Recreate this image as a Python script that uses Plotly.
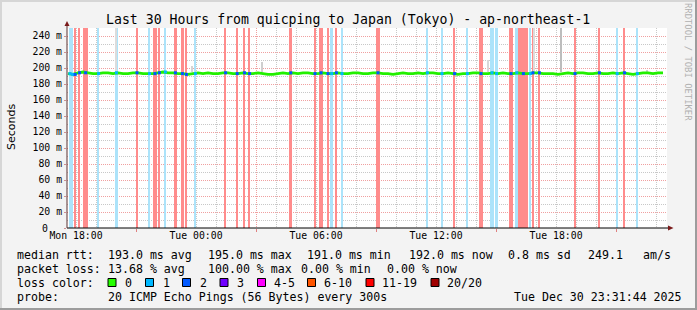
import plotly.graph_objects as go

W, H = 697, 310
PL, PR, PT, PB = 67, 667, 28, 228  # plot area in px

# ---------------- data ----------------
X_START, X_END = 17.55, 47.55          # hours since Mon 00:00
STEP = 5 / 60                          # 300 s step

RTT_T0, RTT_DT = 17.6, 0.25            # median rtt, every 15 min
rtt_ms = [
    193, 192, 194, 195, 194, 193, 193, 194, 194, 193,
    194, 193, 193, 194, 194, 193, 193, 193, 194, 195,
    194, 194, 193, 193, 192, 193, 194, 193, 194, 193,
    193, 194, 194, 193, 193, 194, 193, 193, 194, 193,
    192, 192, 193, 194, 193, 194, 193, 194, 194, 193,
    193, 194, 193, 193, 194, 193, 193, 194, 194, 193,
    193, 194, 194, 193, 193, 192, 193, 194, 193, 193,
    194, 193, 194, 194, 193, 193, 194, 193, 192, 193,
    193, 194, 194, 193, 193, 194, 193, 194, 193, 193,
    194, 193, 193, 194, 194, 193, 193, 193, 192, 193,
    194, 193, 194, 194, 193, 193, 194, 193, 193, 194,
    193, 194, 193, 192, 193, 194, 194, 193, 194, 194,
]

# loss events: centre time (h), number of 5-min steps, level ('b' = 1/20, 'r' = heavy)
loss_time = [17.70, 17.83, 17.96, 18.18, 18.48, 19.13, 20.02, 21.05, 21.68, 21.95,
             22.17, 22.47, 22.97, 23.32, 23.52, 23.97, 25.48, 26.06, 26.43, 26.68,
             28.74, 29.95, 30.25, 30.60, 30.79, 31.02, 31.30, 33.10, 35.57, 36.30,
             36.93, 37.57, 38.25, 38.80, 39.03, 39.75, 40.04, 40.37, 40.72, 40.85,
             41.17, 42.95, 44.17, 45.06, 45.43, 46.07]
loss_steps = [1, 1, 1, 1, 3, 1, 2, 1, 1, 2,
              1, 1, 2, 2, 1, 1, 1, 1, 1, 1,
              2, 1, 2, 1, 1, 1, 1, 2, 1, 1,
              1, 1, 2, 2, 2, 2, 1, 6, 1, 1,
              1, 1, 1, 1, 1, 1]
loss_level = ['b', 'b', 'r', 'r', 'r', 'b', 'b', 'r', 'b', 'r',
              'r', 'b', 'r', 'r', 'r', 'b', 'r', 'r', 'r', 'r',
              'r', 'r', 'r', 'r', 'b', 'r', 'b', 'r', 'b', 'b',
              'r', 'b', 'r', 'b', 'b', 'r', 'b', 'r', 'b', 'r',
              'r', 'r', 'r', 'b', 'r', 'b']

# smoke spikes (h, low ms, high ms, shade)
smoke_time = [20.00, 23.78, 27.29, 38.60, 40.90, 42.27, 46.54]
smoke_low = [196, 195, 195, 195, 196, 195, 194]
smoke_high = [250, 202, 208, 210, 250, 250, 197]
smoke_color = ['#dcdcdc', '#d4d4d4', '#cfcfcf', '#d8d8d8', '#dcdcdc', '#bdbdbd', '#d0d0d0']

x_label_vals = [18, 24, 30, 36, 42]
x_label_text = ['Mon 18:00', 'Tue 00:00', 'Tue 06:00', 'Tue 12:00', 'Tue 18:00']
x_major_vals = [21, 27, 33, 39, 45]
y_tick_vals = list(range(0, 241, 20))
y_tick_text = [''] + [f'{v} m' for v in y_tick_vals[1:]]
y_zero_text = '0'

LOSS_BG = {'b': '#ace3fa', 'r': '#ff8c8c'}
LOSS_LINE = {'b': '#00b8ff', 'r': '#0059ff'}

legend_rows = [
    [("median rtt:", 16), ("193.0 ms avg", 107), ("195.0 ms max", 207), ("191.0 ms min", 306),
     ("192.0 ms now", 408), ("0.8 ms sd", 506.5), ("249.1", 586.5), ("am/s", 641.5)],
    [("packet loss:", 16), ("13.68 % avg", 107), ("100.00 % max", 207), ("0.00 % min", 300),
     ("0.00 % now", 386)],
    [("loss color:", 16)],
    [("probe:", 16), ("20 ICMP Echo Pings (56 Bytes) every 300s", 107),
     ("Tue Dec 30 23:31:44 2025", 513)],
]
legend_y = [254.5, 268.5, 282.5, 296.5]
loss_colors = ['#26ff00', '#00b8ff', '#0059ff', '#7000ff', '#ff00ff', '#ff5500', '#ff0000', '#a00000']
loss_labels = ['0', '1', '2', '3', '4-5', '6-10', '11-19', '20/20']
loss_box_x = [108, 145.5, 182.5, 220, 257.5, 307.5, 366, 431]
loss_lab_x = [124, 161.5, 199, 236, 273, 323, 380.5, 445.5]

# ---------------- helpers ----------------
def px(x):
    return (x - PL) / (PR - PL)

def py(y):
    return (PB - y) / (PB - PT)

MONO = "DejaVu Sans Mono"

fig = go.Figure()

# loss background bars
fig.add_trace(go.Bar(
    x=loss_time, y=[250] * len(loss_time), base=0,
    width=[n * STEP for n in loss_steps],
    marker=dict(color=[LOSS_BG[l] for l in loss_level], line=dict(width=0)),
    hoverinfo='skip', showlegend=False))

# smoke
fig.add_trace(go.Bar(
    x=smoke_time, base=smoke_low, y=[h - l for h, l in zip(smoke_high, smoke_low)],
    width=[STEP * 1.2] * len(smoke_time),
    marker=dict(color=smoke_color, line=dict(width=0)),
    hoverinfo='skip', showlegend=False))

rtt_t = [RTT_T0 + i * RTT_DT for i in range(len(rtt_ms))]
fig.add_trace(go.Scatter(x=rtt_t, y=rtt_ms, mode='lines',
                         line=dict(color='#22f000', width=2.8),
                         hoverinfo='skip', showlegend=False))

# coloured median bits where loss occurred
mx, my, mc = [], [], []
for t, l in zip(loss_time, loss_level):
    i = min(range(len(rtt_t)), key=lambda k: abs(rtt_t[k] - t))
    mx.append(t)
    my.append(rtt_ms[i])
    mc.append(LOSS_LINE[l])
fig.add_trace(go.Scatter(x=mx, y=my, mode='markers',
                         marker=dict(color=mc, size=3, symbol='square'),
                         hoverinfo='skip', showlegend=False))

# dummy trace for label axis
fig.add_trace(go.Scatter(x=[X_START], y=[0], xaxis='x2', mode='markers',
                         marker=dict(opacity=0), hoverinfo='skip', showlegend=False))

fig.update_layout(
    width=W, height=H,
    margin=dict(l=PL, r=W - PR, t=PT, b=H - PB),
    paper_bgcolor='#f3f3f3', plot_bgcolor='#ffffff',
    barmode='overlay', bargap=0,
    font=dict(family=MONO, size=11.6, color='#000000'),
    xaxis=dict(range=[X_START, X_END], tickvals=x_major_vals, ticktext=[''] * 5,
               ticks='outside', ticklen=3, tickcolor='#e08080', tickwidth=1,
               showgrid=True, gridcolor='#f0a0a0', griddash='1px,1px', gridwidth=1,
               minor=dict(dtick=1, tick0=0, showgrid=True, gridcolor='#c8c8c8',
                          griddash='1px,1px', ticks=''),
               zeroline=False, showline=False, fixedrange=True),
    xaxis2=dict(range=[X_START, X_END], overlaying='x', side='bottom',
                tickvals=x_label_vals, ticktext=x_label_text, ticks='',
                showgrid=False, zeroline=False, showline=False,
                tickfont=dict(family=MONO, size=9.8, color='#000000')),
    yaxis=dict(range=[0, 250], tickvals=y_tick_vals, ticktext=y_tick_text,
               ticks='outside', ticklen=2, tickcolor='#d09090',
               showgrid=True, gridcolor='#f0a0a0', griddash='1px,1px',
               minor=dict(dtick=10, tick0=0, showgrid=True, gridcolor='#c8c8c8',
                          griddash='1px,1px', ticks=''),
               zeroline=False, showline=False,
               tickfont=dict(family=MONO, size=9.8, color='#000000')),
)

shapes = []
# axis lines
shapes.append(dict(type='line', xref='paper', yref='paper', x0=0, x1=px(669), y0=0, y1=0,
                   line=dict(color='#000000', width=1)))
shapes.append(dict(type='line', xref='paper', yref='paper', x0=0, x1=0, y0=0, y1=py(24),
                   line=dict(color='#5a3030', width=1)))
# arrows
shapes.append(dict(type='path', xref='paper', yref='paper',
                   path=f"M {px(64.5)} {py(26)} L {px(69.5)} {py(26)} L {px(67)} {py(21)} Z",
                   fillcolor='#7a1a1a', line=dict(width=0)))
shapes.append(dict(type='path', xref='paper', yref='paper',
                   path=f"M {px(668)} {py(225.5)} L {px(668)} {py(230.5)} L {px(673.5)} {py(228)} Z",
                   fillcolor='#7a1a1a', line=dict(width=0)))
# outer frame
shapes.append(dict(type='rect', xref='paper', yref='paper', x0=px(0), x1=px(697), y0=py(0), y1=py(2),
                   fillcolor='#d6d6d6', line=dict(width=0)))
shapes.append(dict(type='rect', xref='paper', yref='paper', x0=px(0), x1=px(2), y0=py(0), y1=py(310),
                   fillcolor='#d6d6d6', line=dict(width=0)))
shapes.append(dict(type='rect', xref='paper', yref='paper', x0=px(695), x1=px(697), y0=py(0), y1=py(310),
                   fillcolor='#9c9c9c', line=dict(width=0)))
shapes.append(dict(type='rect', xref='paper', yref='paper', x0=px(0), x1=px(697), y0=py(308), y1=py(310),
                   fillcolor='#9c9c9c', line=dict(width=0)))
# legend colour boxes
for bx, c in zip(loss_box_x, loss_colors):
    shapes.append(dict(type='rect', xref='paper', yref='paper',
                       x0=px(bx), x1=px(bx + 8), y0=py(278.5), y1=py(286.5),
                       fillcolor=c, line=dict(color='#000000', width=1)))
fig.update_layout(shapes=shapes)

ann = []
ann.append(dict(text="Last 30 Hours from quicping to Japan (Tokyo) - ap-northeast-1",
                x=px(348), y=py(19.5), xref='paper', yref='paper', showarrow=False,
                xanchor='center', yanchor='middle',
                font=dict(family=MONO, size=13.2, color='#000000')))
ann.append(dict(text="Seconds", x=px(11), y=py(127), xref='paper', yref='paper',
                showarrow=False, textangle=-90, xanchor='center', yanchor='middle',
                font=dict(family="DejaVu Sans", size=11, color='#000000')))
ann.append(dict(text="RRDTOOL / TOBI OETIKER", x=px(688), y=py(62), xref='paper', yref='paper',
                showarrow=False, textangle=90, xanchor='center', yanchor='middle',
                font=dict(family=MONO, size=8.9, color='#b0b0b0')))
ann.append(dict(text=y_zero_text, x=px(45), y=py(228), xref='paper', yref='paper',
                showarrow=False, xanchor='center', yanchor='middle', borderpad=0,
                font=dict(family=MONO, size=9.8, color='#000000')))
for row, yy in zip(legend_rows, legend_y):
    for txt, xx in row:
        ann.append(dict(text=txt, x=px(xx - 1), y=py(yy), xref='paper', yref='paper',
                        showarrow=False, xanchor='left', yanchor='middle',
                        font=dict(family=MONO, size=11.6, color='#000000')))
for lab, xx in zip(loss_labels, loss_lab_x):
    ann.append(dict(text=lab, x=px(xx - 1), y=py(legend_y[2]), xref='paper', yref='paper',
                    showarrow=False, xanchor='left', yanchor='middle',
                    font=dict(family=MONO, size=11.6, color='#000000')))
fig.update_layout(annotations=ann)

fig.write_html("out.html")
